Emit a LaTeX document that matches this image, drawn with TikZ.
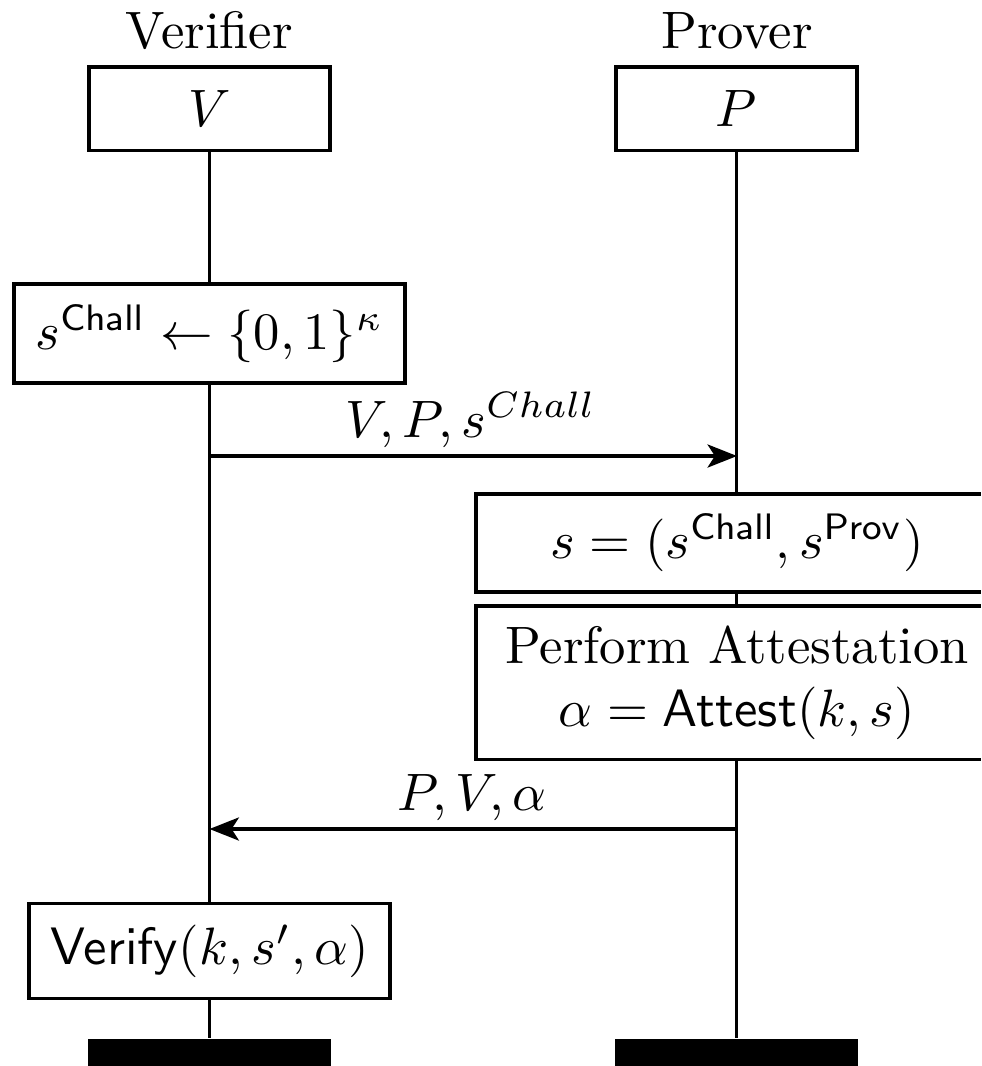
\documentclass[tikz,border=0pt]{standalone}
\usetikzlibrary{arrows.meta,backgrounds}
\begin{document}
\begin{tikzpicture}[x=0.19pt,y=-0.19pt,
  box/.style={draw,line width=0.6pt,fill=white,inner sep=0pt,align=center},
  bar/.style={fill=black,inner sep=0pt,minimum width=46.2pt,minimum height=9pt,anchor=north},
  life/.style={line width=0.6pt},
  msg/.style={line width=0.6pt,-{Stealth[length=5.6pt,width=4.4pt,inset=1.4pt]}},
  lbl/.style={anchor=base,inner sep=0pt}]
\useasboundingbox (0,0) rectangle (981,1066);
\clip (0,0) rectangle (981,1066);
% headers
\node[lbl] (vh) at (209.5,48) {Verifier};
\node[lbl] (ph) at (737,48) {Prover};
% participant boxes
\node[box,minimum width=45.8pt,minimum height=15.8pt] (V) at (209.5,108.5) {$V$};
\node[box,minimum width=45.8pt,minimum height=15.8pt] (P) at (736.5,108.5) {$P$};
% action boxes
\node[box,minimum width=74.3pt,minimum height=18.8pt] (chall) at (209.5,333.5) {$s^{\mathsf{Chall}} \leftarrow \{0,1\}^\kappa$};
\node[box,minimum width=99.2pt,minimum height=18.6pt] (sbox) at (737,543) {$s = (s^{\mathsf{Chall}}, s^{\mathsf{Prov}})$};
\node[box,minimum width=99.2pt,minimum height=29.1pt] (att) at (737,682.5) {Perform Attestation\\$\alpha = \mathsf{Attest}(k,s)$};
\node[box,minimum width=68.6pt,minimum height=17.9pt] (ver) at (209.5,951) {$\mathsf{Verify}(k,s',\alpha)$};
% end bars
\node[bar] (Vend) at (209.5,1038) {};
\node[bar] (Pend) at (736.5,1038) {};
% lifelines
\begin{scope}[on background layer]
\draw[life] (V.south) -- (Vend.north);
\draw[life] (P.south) -- (Pend.north);
\end{scope}
% messages
\coordinate (m1s) at (209.5,456);
\coordinate (m1e) at (737,456);
\coordinate (m2s) at (737,829);
\coordinate (m2e) at (209.5,829);
\draw[msg] (m1s) -- (m1e);
\draw[msg] (m2s) -- (m2e);
\node[lbl] (l1) at (471,437) {$V, P, s^{Chall}$};
\node[lbl] (l2) at (472,810) {$P, V, \alpha$};
\end{tikzpicture}
\end{document}
